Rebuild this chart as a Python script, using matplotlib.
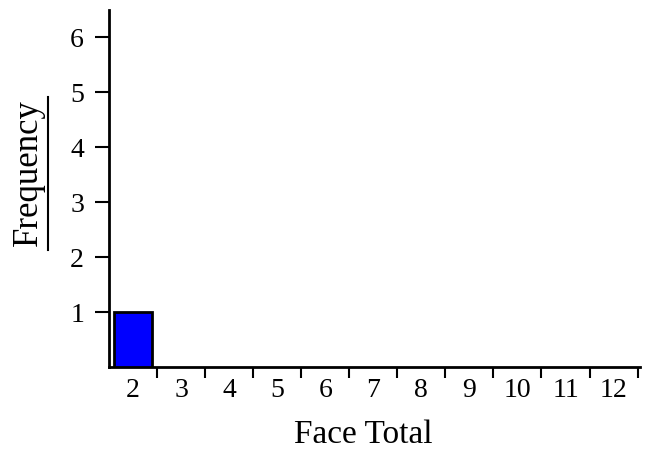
import matplotlib
matplotlib.use("Agg")
import matplotlib.pyplot as plt
from matplotlib.lines import Line2D

plt.rcParams['font.family'] = ['Liberation Serif', 'DejaVu Serif']

# face totals and their counts
totals = [2, 3, 4, 5, 6, 7, 8, 9, 10, 11, 12]
counts = [1, 0, 0, 0, 0, 0, 0, 0, 0, 0, 0]
yticks = [1, 2, 3, 4, 5, 6]

fig = plt.figure(figsize=(6.53, 4.5), dpi=100)
ax = fig.add_axes([109/653, 83/450, (640-109)/653, (367-10)/450])

shown = [(t, c) for t, c in zip(totals, counts) if c > 0]
ax.bar([t for t, c in shown], [c for t, c in shown], width=0.8,
       color='#0000ff', edgecolor='black', linewidth=2, zorder=3)

ax.set_xlim(1.5, 12.55)
ax.set_ylim(0, 6.5)

for s in ['top', 'right']:
    ax.spines[s].set_visible(False)
for s in ['left', 'bottom']:
    ax.spines[s].set_linewidth(2)

ax.set_yticks(yticks)
ax.tick_params(axis='y', direction='out', length=10, width=1.5, labelsize=20, pad=8)

# tick marks at the boundaries, labels at the centres
ax.set_xticks([t + 0.5 for t in totals])
ax.set_xticklabels([])
ax.set_xticks(totals, minor=True)
ax.set_xticklabels([str(t) for t in totals], minor=True)
ax.tick_params(axis='x', which='major', direction='out', length=8, width=1.5)
ax.tick_params(axis='x', which='minor', length=0, labelsize=20, pad=8)

ax.set_xlabel('Face Total', fontsize=24)
ax.xaxis.set_label_coords((363 - 109) / 531, -(435 - 367) / 357, transform=ax.transAxes)
ax.xaxis.label.set_va('center')
fig.text(28/653, 1 - 173/450, 'Frequency', rotation=90, fontsize=25,
         ha='center', va='center')
fig.add_artist(Line2D([48/653, 48/653], [1 - 97/450, 1 - 250/450],
                      color='black', linewidth=1.5))

fig.savefig('out.png', dpi=100)
